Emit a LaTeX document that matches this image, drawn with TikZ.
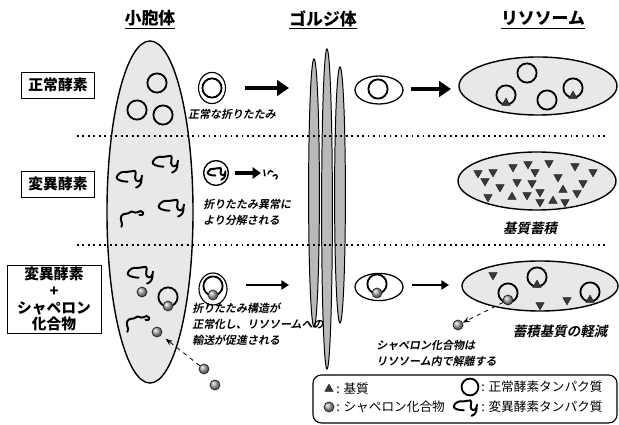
\documentclass[tikz,border=0pt]{standalone}
\usepackage{fontspec}
\newfontfamily\jp{Noto Sans CJK JP}
\newfontfamily\jpslant[FakeSlant=0.2]{Noto Sans CJK JP Bold}
\usetikzlibrary{arrows.meta,shapes.geometric}

\tikzset{
  organelle/.style={draw, ellipse, line width=1pt, fill=gray!18, inner sep=0pt},
  cistern/.style={draw, ellipse, line width=0.7pt, fill=gray!55, inner sep=0pt, minimum width=0.27cm},
  vesicle/.style={draw, ellipse, line width=0.9pt, fill=white, inner sep=0pt, minimum width=1.2cm, minimum height=0.7cm},
  enzyme/.style={draw, circle, line width=1.3pt, inner sep=0pt, minimum size=0.48cm},
  substrate/.style={regular polygon, regular polygon sides=3, fill=gray!45!black, draw=gray!30!black, inner sep=0pt, minimum size=0.24cm},
  flipped/.style={substrate, shape border rotate=180},
  chaperone/.style={circle, draw=gray!30!black, line width=0.5pt, shading=ball, ball color=gray!70, inner sep=0pt, minimum size=0.25cm},
  heading/.style={font=\jp\bfseries\fontsize{12}{14}\selectfont},
  rowlabel/.style={draw, line width=0.6pt, font=\jp\bfseries\fontsize{10.5}{12}\selectfont, align=center, inner sep=0pt},
  note/.style={font=\jpslant\fontsize{7.8}{11.4}\selectfont, align=left, inner sep=0pt},
  bignote/.style={font=\jpslant\fontsize{9.6}{11}\selectfont, inner sep=0pt},
  key/.style={font=\jp\fontsize{9}{11}\selectfont, inner sep=0pt, anchor=west},
  fatarrow/.style={line width=3.5pt, -{Triangle[length=8.5pt, width=11pt]}},
  midarrow/.style={line width=2.8pt, -{Triangle[length=6pt, width=8pt]}},
  thinarrow/.style={line width=2pt, -{Triangle[length=5.5pt, width=6.5pt]}},
  hint/.style={dashed, line width=0.6pt, -{Stealth[length=5pt]}},
  divider/.style={line width=1.3pt, dash pattern=on 1.3pt off 2.6pt},
  chain/.style={line width=1.4pt, line cap=round, line join=round},
  % misfolded chain: open hook, wavy top, tail on the right
  misfold/.pic={
    \draw[chain] (-2,3) .. controls (-8,3) and (-12,1) .. (-11,-1)
      .. controls (-10,-4) and (-6,-6) .. (-3,-5)
      .. controls (0,-4) and (1,-7) .. (4,-6)
      .. controls (6,-5) and (3,0) .. (5,2)
      .. controls (7,4) and (10,2) .. (10,-2);
    \draw[chain] (9.6,1) .. controls (9.5,5) and (8,7) .. (5,8);
  },
  % misfolded chain with a long tail
  misfoldS/.pic={
    \draw[chain] (-8,9) .. controls (-6,6) and (-10,3) .. (-8,0)
      .. controls (-6,-3) and (-3,-1) .. (-1,-3)
      .. controls (1,-5) and (3,-2) .. (5,-3)
      .. controls (7,-4) and (9,-5) .. (10,-3)
      .. controls (11,-1) and (8,0) .. (7,-1);
  },
}

\begin{document}
\begin{tikzpicture}[x=0.025cm, y=-0.025cm]
  \useasboundingbox (0,0) rectangle (619,425);

  % column headings
  \node[heading] (hER) at (150,20) {\underline{小胞体}};
  \node[heading] (hGolgi) at (323,20) {\underline{ゴルジ体}};
  \node[heading] (hLyso) at (543,20) {\underline{リソソーム}};

  % row labels
  \node[rowlabel, minimum width=1.825cm, minimum height=0.65cm] (normal) at (58,85) {正常酵素};
  \node[rowlabel, minimum width=1.825cm, minimum height=0.65cm] (mutant) at (58,184) {変異酵素};
  \node[rowlabel, minimum width=2.35cm, minimum height=1.7cm] (treated) at (54,299) {変異酵素\\+\\シャペロン\\化合物};

  % organelles
  \node[organelle, minimum width=2.15cm, minimum height=8.55cm] (er) at (150,212) {};
  \node[cistern, minimum height=6.7cm] (g1) at (314,193) {};
  \node[cistern, minimum height=8.0cm] (g2) at (327,209) {};
  \node[cistern, minimum height=6.4cm] (g3) at (340,195) {};
  \node[organelle, minimum width=3.95cm, minimum height=1.45cm] (lyso1) at (538,86) {};
  \node[organelle, minimum width=3.95cm, minimum height=1.45cm] (lyso2) at (537,181) {};
  \node[organelle, minimum width=3.9cm, minimum height=1.25cm] (lyso3) at (540,286) {};

  % normal enzyme
  \node[enzyme] (e1) at (157,83) {};
  \node[enzyme] (e2) at (137,110) {};
  \node[enzyme] (e3) at (163,115) {};
  \node[draw, ellipse, line width=0.8pt, inner sep=0pt, minimum width=0.675cm, minimum height=0.78cm] (ves1) at (212,88) {};
  \node[enzyme] (fold1) at (ves1) {};
  \node[note] (n1) at (232,114) {正常な折りたたみ};
  \coordinate (a1s) at (245,88);
  \coordinate (a1e) at (289,88);
  \draw[fatarrow] (a1s) -- (a1e);
  \node[vesicle] (gv1) at (379,90) {};
  \node[enzyme] (gv1e) at (378,89) {};
  \coordinate (b1s) at (411,89);
  \coordinate (b1e) at (451,89);
  \draw[fatarrow] (b1s) -- (b1e);
  \node[enzyme] (l1a) at (527,73) {};
  \node[enzyme] (l1b) at (547,100) {};
  \node[enzyme] (l1c) at (506,95) {};
  \node[substrate] (l1cs) at (506,103) {};
  \node[enzyme] (l1d) at (573,88) {};
  \node[substrate] (l1ds) at (573,96) {};

  % mutant enzyme
  \pic[scale=1.2] at (166,163) {misfold};
  \pic[scale=1.2] at (130,178) {misfold};
  \pic[scale=1.2] at (172,207) {misfold};
  \pic[scale=1.2] at (131,216) {misfoldS};
  \node[draw, circle, line width=1pt, inner sep=0pt, minimum size=0.62cm] (ves2) at (216,173) {};
  \pic[scale=0.85] at (217,173) {misfold};
  \coordinate (a2s) at (235,173);
  \coordinate (a2e) at (261,173);
  \draw[midarrow] (a2s) -- (a2e);
  \draw[line width=1pt, line cap=round] (264,170) -- (265,176)
    (268,174) .. controls (269,170) and (272,170) .. (273,172)
    (273,176) .. controls (276,173) and (279,176) .. (276,179);
  \node[note, anchor=north west] (n2) at (203,199) {折りたたみ異常に\\より分解される};
  \foreach \x/\y [count=\i] in {478/173, 493/172, 485/181, 513/167, 528/164, 535/172, 549/163,
      575/166, 593/172, 558/177, 500/187, 517/182, 532/183, 583/183, 577/193, 488/197,
      527/195, 540/192, 540/202, 565/202}
    \node[flipped] (acc\i) at (\x,\y) {};
  \foreach \x/\y [count=\i] in {512/197, 563/190, 553/201}
    \node[substrate] (accup\i) at (\x,\y) {};
  \node[bignote] (n3) at (530,228) {基質蓄積};

  % mutant enzyme with chaperone
  \pic[scale=1.2] at (141,274) {misfold};
  \pic[scale=1.2] at (137,321) {misfoldS};
  \node[chaperone] (c1) at (142,292) {};
  \node[enzyme] (e4) at (168,297) {};
  \node[chaperone] (c2) at (168,306) {};
  \node[chaperone] (c3) at (157,332) {};
  \node[chaperone] (d1) at (204,369) {};
  \node[chaperone] (d2) at (215,385) {};
  \draw[hint, shorten >=4pt] (d1) -- (c3);
  \node[draw, ellipse, line width=0.8pt, inner sep=0pt, minimum width=0.7cm, minimum height=0.8cm] (ves3) at (213,289) {};
  \node[enzyme] (fold3) at (213,286) {};
  \node[chaperone] (fold3c) at (213,295) {};
  \node[note, anchor=north west] (n4) at (192,303) {折りたたみ構造が\\正常化し、リソソームへの\\輸送が促進される};
  \coordinate (a3s) at (246,285);
  \coordinate (a3e) at (289,285);
  \draw[thinarrow] (a3s) -- (a3e);
  \node[vesicle, minimum height=0.68cm] (gv3) at (379,287) {};
  \node[enzyme] (gv3e) at (377,284) {};
  \node[chaperone] (gv3c) at (377,293) {};
  \coordinate (b3s) at (412,285);
  \coordinate (b3e) at (449,285);
  \draw[thinarrow] (b3s) -- (b3e);
  \node[flipped] (l3a) at (493,275) {};
  \node[enzyme] (l3b) at (508,293) {};
  \node[chaperone] (l3bc) at (508,300) {};
  \node[enzyme] (l3c) at (537,277) {};
  \node[substrate] (l3cs) at (537,285) {};
  \node[flipped] (l3d) at (540,305) {};
  \node[flipped] (l3e) at (567,300) {};
  \node[enzyme] (l3f) at (590,292) {};
  \node[substrate] (l3fs) at (590,300) {};
  \node[chaperone] (free) at (458,325) {};
  \draw[hint] (l3bc) -- (free);
  \node[bignote] (n5) at (560,331) {蓄積基質の軽減};
  \node[note, anchor=north west] (n6) at (376,340) {シャペロン化合物は\\リソソーム内で解離する};

  % legend
  \node[draw, rounded corners=6pt, line width=0.8pt, minimum width=7.6cm, minimum height=1.2cm] (legend) at (465,399) {};
  \node[substrate] (k1) at (329,389) {};
  \node[key] (k1t) at (336,389) {: 基質};
  \node[chaperone] (k2) at (329,407) {};
  \node[key] (k2t) at (336,407) {: シャペロン化合物};
  \node[enzyme, minimum size=0.42cm] (k3) at (470,387) {};
  \node[key] (k3t) at (481,387) {: 正常酵素タンパク質};
  \pic[scale=1.1] at (466,407) {misfold};
  \node[key] (k4t) at (481,407) {: 変異酵素タンパク質};

  % row separators
  \draw[divider] (77,136) -- (607,136);
  \draw[divider] (77,245) -- (607,245);
\end{tikzpicture}
\end{document}
